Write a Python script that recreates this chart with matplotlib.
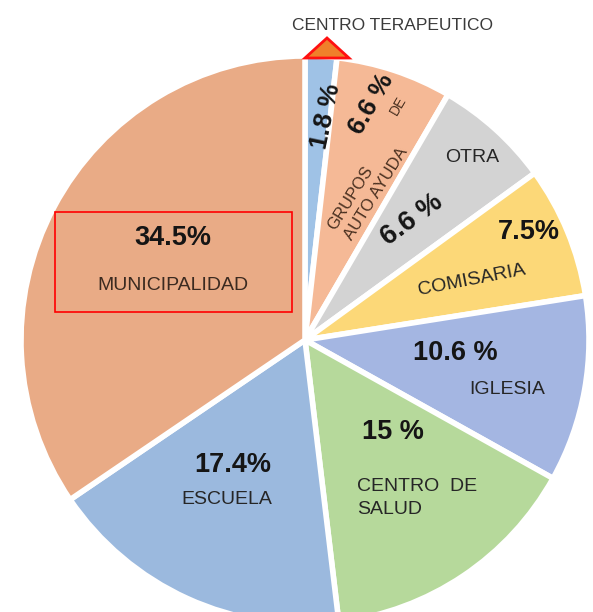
import matplotlib
matplotlib.use("Agg")
import matplotlib.pyplot as plt
from matplotlib.patches import Rectangle, Polygon

plt.rcParams['font.family'] = ['Liberation Sans', 'DejaVu Sans']

# ---- data ----
categories = ["CENTRO TERAPEUTICO", "GRUPOS AUTO AYUDA DE", "OTRA", "COMISARIA",
              "IGLESIA", "CENTRO DE SALUD", "ESCUELA", "MUNICIPALIDAD"]
values = [1.8, 6.6, 6.6, 7.5, 10.6, 15.0, 17.4, 34.5]
pct_labels = ["1.8 %", "6.6 %", "6.6 %", "7.5%", "10.6 %", "15 %", "17.4%", "34.5%"]
colors = ["#9fc2e6", "#f5b996", "#d3d3d3", "#fcd878", "#a4b6e2", "#b6d99b",
          "#9bb9de", "#e9ab86"]

W, H = 593, 612
fig = plt.figure(figsize=(W / 100, H / 100), dpi=100)
ax = fig.add_axes([0, 0, 1, 1])

def Y(y):
    return H - y

ax.pie(values, colors=colors, startangle=90, counterclock=False,
       center=(305, Y(340)), radius=284, frame=True,
       wedgeprops=dict(edgecolor="white", linewidth=4))
ax.set_xlim(0, W)
ax.set_ylim(0, H)
ax.set_aspect("equal")
ax.axis("off")

bold = dict(fontweight="bold", color="#151515", ha="center", va="center")
reg = dict(color="#262626", ha="center", va="center")

# percentages
ax.text(326, Y(116), pct_labels[0], fontsize=18.5, rotation=78, **bold)
ax.text(371, Y(104), pct_labels[1], fontsize=18.5, rotation=60, **bold)
ax.text(412, Y(220), pct_labels[2], fontsize=19.5, rotation=36, **bold)
ax.text(529, Y(232), pct_labels[3], fontsize=19.5, **bold)
ax.text(455, Y(353), pct_labels[4], fontsize=19.5, **bold)
ax.text(393, Y(432), pct_labels[5], fontsize=19.5, **bold)
ax.text(233, Y(465), pct_labels[6], fontsize=19.5, **bold)
ax.text(173, Y(238), pct_labels[7], fontsize=19.5, **bold)

# category labels
ax.text(392, Y(25), "CENTRO TERAPEUTICO", fontsize=12.5, color="#3a3a3a",
        ha="center", va="center")
ax.text(398, Y(106), "DE", fontsize=10, rotation=60, color="#4a3020",
        ha="center", va="center")
ax.text(368, Y(189), "GRUPOS\nAUTO AYUDA", fontsize=12, rotation=58,
        color="#4a3020", ha="center", va="center", multialignment="left",
        linespacing=1.4)
ax.text(472, Y(158), "OTRA", fontsize=14, **reg)
ax.text(472, Y(280), "COMISARIA", fontsize=14, rotation=11, **reg)
ax.text(507, Y(390), "IGLESIA", fontsize=14, **reg)
ax.text(357, Y(498), "CENTRO  DE\nSALUD", fontsize=14, color="#262626",
        ha="left", va="center", multialignment="left", linespacing=1.5)
ax.text(227, Y(499), "ESCUELA", fontsize=14, **reg)
ax.text(173, Y(285), "MUNICIPALIDAD", fontsize=14, color="#3b2a20",
        ha="center", va="center")

# red highlight box
ax.add_patch(Rectangle((55, Y(312)), 237, 100, fill=False,
                       edgecolor="#ff0000", linewidth=1.2, zorder=5))
# triangle marker
ax.add_patch(Polygon([(305, Y(58)), (349, Y(58)), (327, Y(38))], closed=True,
                     facecolor="#f0802a", edgecolor="#ff1010", linewidth=2,
                     zorder=5))

fig.savefig("out.png", dpi=100)
